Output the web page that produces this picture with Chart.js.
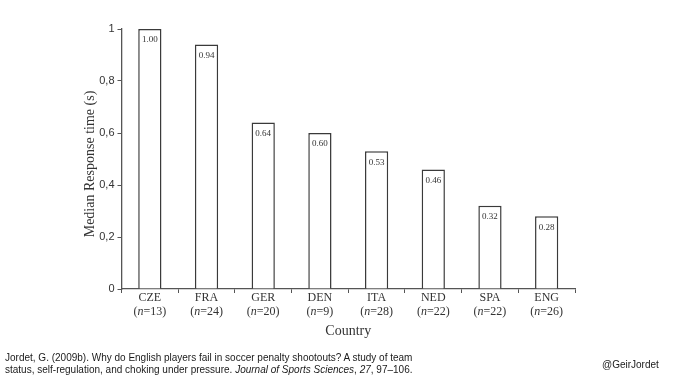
<!DOCTYPE html>
<html>
<head>
<meta charset="utf-8">
<script src="https://cdn.jsdelivr.net/npm/chart.js@4/dist/chart.umd.min.js"></script>
<style>
  html, body { margin: 0; padding: 0; background: #fff; }
  #wrap { position: relative; width: 680px; height: 383px; overflow: hidden; }
  canvas { position: absolute; left: 0; top: 0; }
  .foot { position: absolute; font-family: "Liberation Sans", Arial, sans-serif; font-size: 10px; color: #1a1a1a; white-space: nowrap; line-height: 12px; }
  #cite { left: 5px; top: 352px; }
  #handle { left: 602px; top: 359px; }
</style>
</head>
<body>
<div id="wrap">
  <canvas id="c" width="680" height="383"></canvas>
  <div class="foot" id="cite">Jordet, G. (2009b). Why do English players fail in soccer penalty shootouts? A study of team<br>status, self-regulation, and choking under pressure. <i>Journal of Sports Sciences</i>, <i>27</i>, 97–106.</div>
  <div class="foot" id="handle">@GeirJordet</div>
</div>
<script>
// Median response time per national team, with number of penalties taken
const countries = ['CZE', 'FRA', 'GER', 'DEN', 'ITA', 'NED', 'SPA', 'ENG'];
const sampleSizes = [13, 24, 20, 9, 28, 22, 22, 26];
const medianTimes = [1.00, 0.94, 0.64, 0.60, 0.53, 0.46, 0.32, 0.28];
const yTicks = [0, 0.2, 0.4, 0.6, 0.8, 1];
const yTitle = 'Median Response time (s)';
const xTitle = 'Country';

const SERIF = '"Liberation Serif", "Times New Roman", serif';
const SANS = '"Liberation Sans", Arial, sans-serif';
const INK = '#333';

// Decimal comma for the y axis labels (0 and 1 stay plain)
function commaLabel(v) {
  if (v === 0 || v === 1) return String(v);
  return v.toFixed(1).replace('.', ',');
}

// Value labels, category labels with italic n, and axis titles
const annotate = {
  id: 'annotate',
  afterDatasetsDraw(chart) {
    const ctx = chart.ctx;
    const meta = chart.getDatasetMeta(0);
    ctx.save();
    ctx.fillStyle = INK;
    ctx.textAlign = 'center';
    ctx.textBaseline = 'middle';
    ctx.font = '9px ' + SERIF;
    meta.data.forEach((bar, i) => {
      ctx.fillText(medianTimes[i].toFixed(2), bar.x, bar.y + 11);
    });
    ctx.restore();
  },
  afterDraw(chart) {
    const ctx = chart.ctx;
    const x = chart.scales.x;
    const area = chart.chartArea;
    ctx.save();
    ctx.fillStyle = INK;
    ctx.textBaseline = 'middle';
    countries.forEach((name, i) => {
      const cx = x.getPixelForValue(i);
      ctx.textAlign = 'center';
      ctx.font = '12px ' + SERIF;
      ctx.fillText(name, cx, area.bottom + 9);
      // "(n=13)" with the n set in italics
      const parts = [
        ['(', '12px ' + SERIF],
        ['n', 'italic 12px ' + SERIF],
        ['=' + sampleSizes[i] + ')', '12px ' + SERIF]
      ];
      let total = 0;
      parts.forEach(p => { ctx.font = p[1]; total += ctx.measureText(p[0]).width; });
      let px = cx - total / 2;
      ctx.textAlign = 'left';
      parts.forEach(p => {
        ctx.font = p[1];
        ctx.fillText(p[0], px, area.bottom + 23);
        px += ctx.measureText(p[0]).width;
      });
    });
    ctx.textAlign = 'center';
    ctx.font = '14px ' + SERIF;
    ctx.fillText(xTitle, (area.left + area.right) / 2, 331);
    ctx.translate(90, 164);
    ctx.rotate(-Math.PI / 2);
    ctx.fillText(yTitle, 0, 0);
    ctx.restore();
  }
};

new Chart(document.getElementById('c'), {
  type: 'bar',
  data: {
    labels: countries,
    datasets: [{
      data: medianTimes,
      backgroundColor: '#ffffff',
      borderColor: '#3a3a3a',
      borderWidth: 1.5,
      barPercentage: 0.41,
      categoryPercentage: 1.0
    }]
  },
  options: {
    responsive: false,
    devicePixelRatio: 1,
    animation: false,
    layout: { padding: { left: 0, right: 105, top: 29, bottom: 0 } },
    plugins: { legend: { display: false }, tooltip: { enabled: false } },
    scales: {
      x: {
        grid: { offset: true, drawOnChartArea: false, drawTicks: true, tickLength: 4, color: '#555', lineWidth: 1 },
        border: { color: '#555', width: 1.3 },
        ticks: { display: false },
        afterFit(scale) { scale.height = 94; }
      },
      y: {
        min: 0,
        max: 1,
        afterBuildTicks(scale) { scale.ticks = yTicks.map(v => ({ value: v })); },
        grid: { drawOnChartArea: false, drawTicks: true, tickLength: 4, color: '#555', lineWidth: 1 },
        border: { color: '#555', width: 1.3 },
        ticks: {
          padding: 3,
          color: INK,
          font: { family: SANS, size: 11 },
          callback: v => commaLabel(v)
        },
        afterFit(scale) { scale.width = 121.5; }
      }
    }
  },
  plugins: [annotate]
});
</script>
</body>
</html>
